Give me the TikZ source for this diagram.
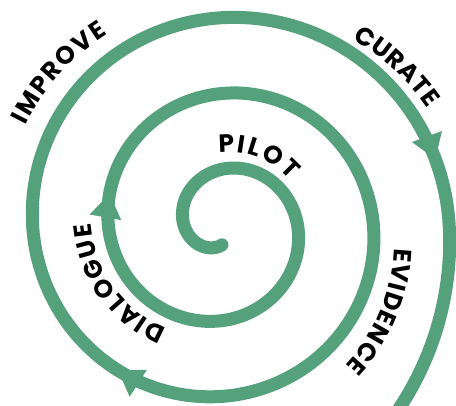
\documentclass[tikz,border=0pt]{standalone}
\usepackage{fontspec}
\usepackage{tikz}
\usetikzlibrary{arrows.meta, decorations.markings, decorations.text}
\newfontfamily\poppins{Poppins}
\newcommand{\spiralfont}{\poppins\bfseries\fontsize{25}{25}\selectfont}
\definecolor{spiralgreen}{RGB}{85, 161, 124}
\tikzset{spiraltip/.tip={Triangle[width=32pt, length=24pt, line width=0pt]}}

% word set on a curve round the spiral centre:
% #1 word, #2/#3 start/end angle, #4/#5 start/end radius of the baseline
\newcommand{\curvelabel}[5]{%
  \path[decorate, decoration={text along path, text={|\spiralfont|#1},
        text align={fit to path}}]
    plot[domain=#2:#3, samples=40, variable=\a]
      ({222+(#4+(#5-#4)*(\a-(#2))/((#3)-(#2)))*cos(\a)},
       {180+(#4+(#5-#4)*(\a-(#2))/((#3)-(#2)))*sin(\a)});
}

\begin{document}
\begin{tikzpicture}[x=1pt, y=1pt,
    spiral/.style={spiralgreen, line width=13pt, line cap=round, line join=round},
    declare function={sr(\s)=37.8+0.2105*\s+0.0083*max(0,\s-900)^2;}]
  \useasboundingbox (0,0) rectangle (456,406);
  \clip (0,0) rectangle (456,406);

  % the spiral, from the middle outwards, clockwise
  \draw[spiral, postaction={decorate}, decoration={markings,
      mark=at position 563pt with {\arrow{spiraltip}},
      mark=at position 1311pt with {\arrow{spiraltip}},
      mark=at position 2072pt with {\arrow{spiraltip}}}]
    plot[domain=-90:950, samples=520, variable=\t]
      ({222+sr(\t)*cos(180-\t)}, {180+sr(\t)*sin(180-\t)});

  % labels
  \curvelabel{IMPROVE}{153}{120.8}{220.6}{223}
  \curvelabel{CURATE}{55}{29.8}{228}{237}
  \curvelabel{PILOT}{92.5}{34.2}{73}{81.3}
  \curvelabel{EVIDENCE}{-7.3}{-48.6}{173.4}{186}
  \curvelabel{DIALOGUE}{241.5}{178.9}{116.7}{131.5}
\end{tikzpicture}
\end{document}
